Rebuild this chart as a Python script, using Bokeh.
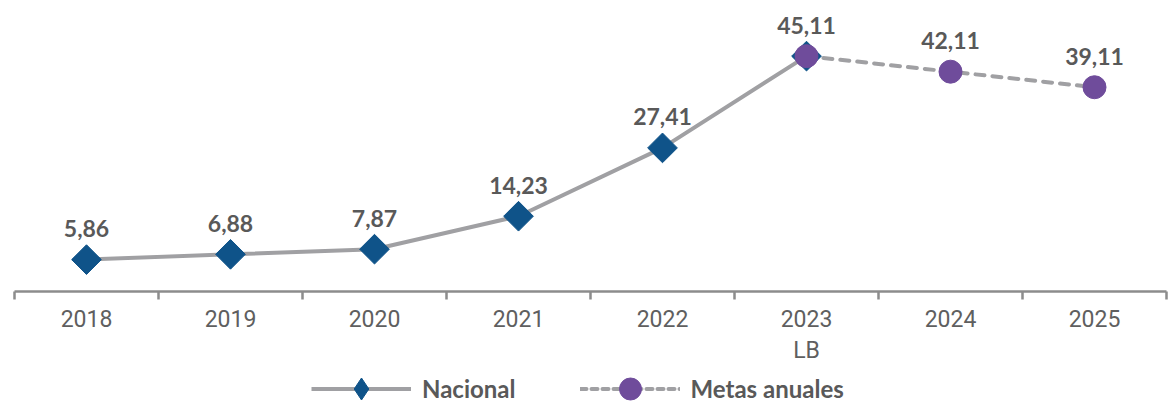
from bokeh.plotting import figure
from bokeh.layouts import column
from bokeh.models import Range1d, FixedTicker, Legend, LegendItem, ColumnDataSource
from bokeh.core.properties import value
from bokeh.embed import file_html
from bokeh.resources import INLINE

# ---- data ----
years = ["2018", "2019", "2020", "2021", "2022", "2023", "2024", "2025"]
tick_labels = ["2018", "2019", "2020", "2021", "2022", "2023\nLB", "2024", "2025"]
nacional_years = ["2018", "2019", "2020", "2021", "2022", "2023"]
nacional_values = [5.86, 6.88, 7.87, 14.23, 27.41, 45.11]
metas_years = ["2023", "2024", "2025"]
metas_values = [45.11, 42.11, 39.11]
series_names = ["Nacional", "Metas anuales"]

GRAY_TXT = "#595959"
LINE_GRAY = "#a0a0a3"
BLUE = "#0f5389"
PURPLE = "#6f4c9b"
W = 1168

def xpos(y):
    return years.index(y) + 0.5

def fmt(v):
    return f"{v:.2f}".replace(".", ",")

nac_src = ColumnDataSource(dict(
    x=[xpos(y) for y in nacional_years], y=nacional_values,
    lbl=[fmt(v) for v in nacional_values]))
met_src = ColumnDataSource(dict(
    x=[xpos(y) for y in metas_years], y=metas_values,
    lbl=[fmt(v) for v in metas_values]))
met_lbl_src = ColumnDataSource(dict(
    x=[xpos(y) for y in metas_years[1:]], y=metas_values[1:],
    lbl=[fmt(v) for v in metas_values[1:]]))

p = figure(width=W, height=368, output_backend="svg", toolbar_location=None,
           x_range=Range1d(0, len(years)), y_range=Range1d(-0.29, 55.84),
           min_border_left=14, min_border_right=2, min_border_top=0,
           min_border_bottom=77)
p.outline_line_color = None
p.grid.visible = False
p.yaxis.visible = False

ax = p.xaxis[0]
ax.ticker = FixedTicker(ticks=[i + 0.5 for i in range(len(years))],
                        minor_ticks=list(range(len(years) + 1)))
ax.major_label_overrides = {i + 0.5: t for i, t in enumerate(tick_labels)}
ax.axis_line_color = "#8c8c8c"
ax.axis_line_width = 2.5
ax.major_tick_line_color = None
ax.major_tick_out = 0
ax.major_tick_in = 0
ax.minor_tick_line_color = "#8c8c8c"
ax.minor_tick_line_width = 2.5
ax.minor_tick_out = 8
ax.minor_tick_in = 0
ax.major_label_text_font = "Roboto"
ax.major_label_text_font_size = "23px"
ax.major_label_text_color = "#5f5f5f"
ax.major_label_standoff = 6
ax.major_label_text_line_height = 1.15

p.line("x", "y", source=nac_src, line_color=LINE_GRAY, line_width=4)
p.line("x", "y", source=met_src, line_color=LINE_GRAY, line_width=4,
       line_dash="9 8", line_cap="round")
p.scatter("x", "y", source=nac_src, marker="square", angle=0.785398,
          size=21, fill_color=BLUE, line_color=BLUE)
p.scatter("x", "y", source=met_src, marker="circle", size=23,
          fill_color=PURPLE, line_color=PURPLE)

for src in (nac_src, met_lbl_src):
    p.text("x", "y", text="lbl", source=src, text_font=value("Lato"),
           text_font_style="bold", text_font_size="23px", text_color=GRAY_TXT,
           text_align="center", text_baseline="alphabetic", y_offset=-31)

# ---- legend strip ----
p2 = figure(width=W, height=34, output_backend="svg", toolbar_location=None,
            x_range=Range1d(0, 1), y_range=Range1d(0, 1),
            min_border=0)
p2.outline_line_color = None
p2.grid.visible = False
p2.axis.visible = False
off = dict(x=[-10, -9], y=[-10, -9])
d_l1 = p2.line(x=off["x"], y=off["y"], line_color=LINE_GRAY, line_width=4)
d_s1 = p2.scatter(x=off["x"], y=off["y"], marker="diamond", size=20,
                  fill_color=BLUE, line_color=BLUE)
d_l2 = p2.line(x=off["x"], y=off["y"], line_color=LINE_GRAY, line_width=4,
               line_dash="6 5", line_cap="round")
d_s2 = p2.scatter(x=off["x"], y=off["y"], marker="circle", size=20,
                  fill_color=PURPLE, line_color=PURPLE)

legend = Legend(items=[LegendItem(label=series_names[0], renderers=[d_l1, d_s1]),
                       LegendItem(label=series_names[1], renderers=[d_l2, d_s2])],
                orientation="horizontal", location=(297, -14),
                glyph_width=100, glyph_height=55, label_standoff=11, spacing=64,
                padding=0, margin=0, border_line_color=None,
                background_fill_alpha=0,
                label_text_font="Lato", label_text_font_style="bold",
                label_text_font_size="24px", label_text_color=GRAY_TXT)
p2.add_layout(legend)

open("out.html", "w").write(file_html(column(p, p2, spacing=0), INLINE))
